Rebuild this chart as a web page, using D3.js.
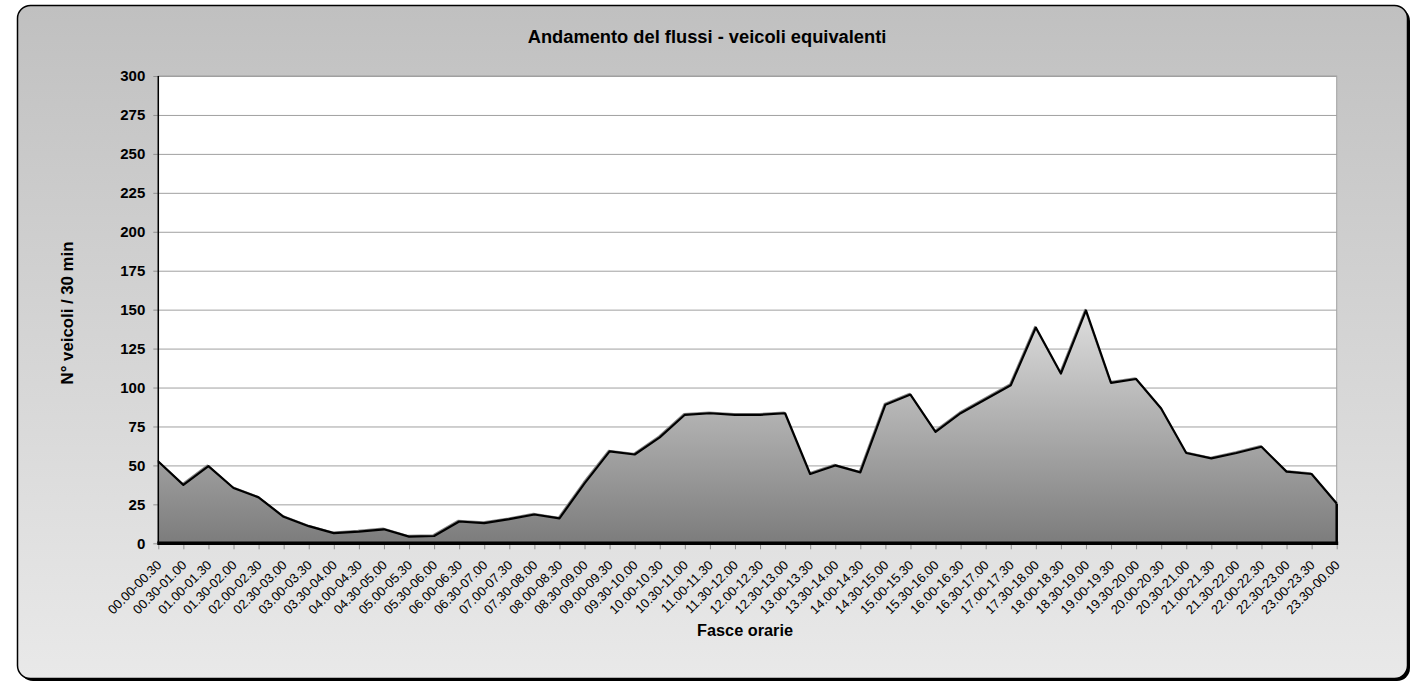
<!DOCTYPE html>
<html>
<head>
<meta charset="utf-8">
<script src="https://cdn.jsdelivr.net/npm/d3@7"></script>
<style>
  body { margin: 0; background: #ffffff; }
  svg { display: block; font-family: "Liberation Sans", Arial, sans-serif; }
</style>
</head>
<body>
<svg id="chart" width="1418" height="684"></svg>
<script>
const categories = [
  "00.00-00.30","00.30-01.00","01.00-01.30","01.30-02.00","02.00-02.30","02.30-03.00",
  "03.00-03.30","03.30-04.00","04.00-04.30","04.30-05.00","05.00-05.30","05.30-06.00",
  "06.00-06.30","06.30-07.00","07.00-07.30","07.30-08.00","08.00-08.30","08.30-09.00",
  "09.00-09.30","09.30-10.00","10.00-10.30","10.30-11.00","11.00-11.30","11.30-12.00",
  "12.00-12.30","12.30-13.00","13.00-13.30","13.30-14.00","14.00-14.30","14.30-15.00",
  "15.00-15.30","15.30-16.00","16.00-16.30","16.30-17.00","17.00-17.30","17.30-18.00",
  "18.00-18.30","18.30-19.00","19.00-19.30","19.30-20.00","20.00-20.30","20.30-21.00",
  "21.00-21.30","21.30-22.00","22.00-22.30","22.30-23.00","23.00-23.30","23.30-00.00"
];
const veicoli = [
  52.5, 37.5, 49.5, 35.5, 29.5, 17, 11, 6.5, 7.5, 9, 4.3, 4.7,
  14, 13, 15.5, 18.5, 16, 38.5, 59, 57, 68, 82.5, 83.5, 82.5,
  82.5, 83.5, 44.5, 50, 45.5, 89, 95.5, 71.5, 83.5, 92.5, 101.5, 138.5,
  109, 149.5, 103, 105.5, 86.5, 58, 54.5, 58, 62, 46, 44.5, 25.5
];
const yTicks = [0, 25, 50, 75, 100, 125, 150, 175, 200, 225, 250, 275, 300];
const titleText = "Andamento del flussi - veicoli equivalenti";
const xTitle = "Fasce orarie";
const yTitle = "N° veicoli  / 30 min";

const svg = d3.select("#chart");
const L = 158.3, R = 1336.7, T = 76, B = 543.3;

const defs = svg.append("defs");
const bg = defs.append("linearGradient").attr("id", "bgGrad")
  .attr("x1", 0).attr("y1", 0).attr("x2", 0).attr("y2", 1);
bg.append("stop").attr("offset", "0%").attr("stop-color", "#c0c0c0");
bg.append("stop").attr("offset", "100%").attr("stop-color", "#e9e9e9");

const x = d3.scalePoint().domain(categories).range([L, R]);
const y = d3.scaleLinear().domain([0, 300]).range([B, T]);

const ag = defs.append("linearGradient").attr("id", "areaGrad")
  .attr("gradientUnits", "userSpaceOnUse")
  .attr("x1", 0).attr("x2", 0).attr("y1", y(150)).attr("y2", y(0));
ag.append("stop").attr("offset", "0%").attr("stop-color", "#dedede");
ag.append("stop").attr("offset", "100%").attr("stop-color", "#7c7c7c");

// frame with shadow
svg.append("rect").attr("x", 20).attr("y", 8).attr("width", 1390).attr("height", 673)
  .attr("rx", 13).attr("fill", "#000");
svg.append("rect").attr("x", 17.5).attr("y", 5.5).attr("width", 1390).attr("height", 673)
  .attr("rx", 13).attr("fill", "url(#bgGrad)").attr("stroke", "#000").attr("stroke-width", 1.5);

// plot area
svg.append("rect").attr("x", L).attr("y", T).attr("width", R - L).attr("height", B - T)
  .attr("fill", "#fff").attr("stroke", "#a0a0a0").attr("stroke-width", 1);

// y axis with gridlines
const yAxis = svg.append("g").attr("transform", `translate(${L},0)`)
  .call(d3.axisLeft(y).tickValues(yTicks).tickSize(5).tickPadding(8));
yAxis.select(".domain").remove();
yAxis.selectAll(".tick line").attr("stroke", "#909090");
yAxis.selectAll(".tick text").attr("font-size", 15).attr("font-weight", "bold")
  .attr("fill", "#000").attr("font-family", "Liberation Sans, Arial, sans-serif");

const grid = svg.append("g").attr("transform", `translate(${L},0)`)
  .call(d3.axisRight(y).tickValues(yTicks.filter(d => d > 0)).tickSize(R - L).tickFormat(""));
grid.select(".domain").remove();
grid.selectAll(".tick line").attr("stroke", "#a0a0a0");

// area + line
svg.append("path").datum(veicoli)
  .attr("fill", "url(#areaGrad)")
  .attr("d", d3.area().x((d, i) => x(categories[i])).y0(y(0)).y1(d => y(d)));
svg.append("path").datum(veicoli)
  .attr("fill", "none").attr("stroke", "#888").attr("stroke-width", 1.5).attr("stroke-linejoin", "round")
  .attr("transform", "translate(-1,-1)")
  .attr("d", d3.line().x((d, i) => x(categories[i])).y(d => y(d)));
svg.append("path").datum(veicoli)
  .attr("fill", "none").attr("stroke", "#000").attr("stroke-width", 2.2).attr("stroke-linejoin", "round")
  .attr("d", d3.line().x((d, i) => x(categories[i])).y(d => y(d)));
svg.append("line")
  .attr("x1", x(categories[categories.length - 1])).attr("x2", x(categories[categories.length - 1]))
  .attr("y1", y(veicoli[veicoli.length - 1])).attr("y2", y(0))
  .attr("stroke", "#000").attr("stroke-width", 2.5);

// x axis
const xAxis = svg.append("g").attr("transform", `translate(0,${B})`)
  .call(d3.axisBottom(x).tickSize(6).tickSizeOuter(0));
xAxis.select(".domain").remove();
xAxis.selectAll(".tick line").attr("stroke", "#909090");
xAxis.selectAll(".tick text")
  .attr("font-size", 13).attr("fill", "#000")
  .attr("font-family", "Liberation Sans, Arial, sans-serif")
  .attr("text-anchor", "end")
  .attr("transform", "translate(-2,17) rotate(-45)")
  .attr("x", 0).attr("y", 0).attr("dy", "0.6em");

// axis lines
svg.append("line").attr("x1", L).attr("x2", L).attr("y1", T).attr("y2", B)
  .attr("stroke", "#000").attr("stroke-width", 1.5);
svg.append("line").attr("x1", L - 1).attr("x2", R + 1.5).attr("y1", B).attr("y2", B)
  .attr("stroke", "#000").attr("stroke-width", 3.5);

// titles
svg.append("text").attr("x", 707).attr("y", 43).attr("text-anchor", "middle")
  .attr("font-size", 18.3).attr("font-weight", "bold").text(titleText);
svg.append("text").attr("x", 745).attr("y", 636).attr("text-anchor", "middle")
  .attr("font-size", 16.3).attr("font-weight", "bold").text(xTitle);
svg.append("text").attr("transform", "translate(72.5,313) rotate(-90)").attr("text-anchor", "middle")
  .attr("font-size", 16.8).attr("font-weight", "bold").text(yTitle);
</script>
</body>
</html>
